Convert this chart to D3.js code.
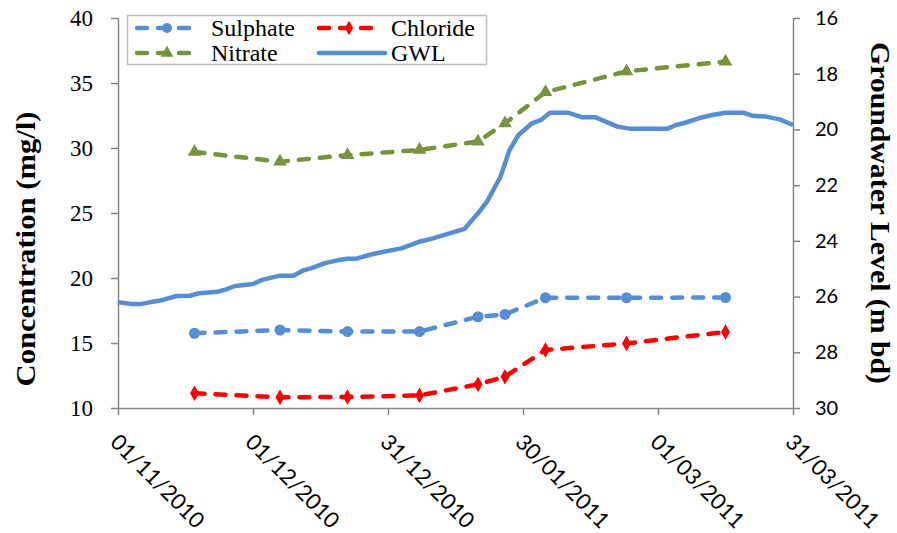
<!DOCTYPE html>
<html>
<head>
<meta charset="utf-8">
<script src="https://cdn.jsdelivr.net/npm/d3@7"></script>
<style>
  body { margin: 0; background: #fff; }
  svg { display: block; }
</style>
</head>
<body>
<svg id="chart" width="897" height="533"></svg>
<script>
// sampling campaign dates (chemistry)
var sampleDates = ["2010-11-18", "2010-12-07", "2010-12-22", "2011-01-07", "2011-01-20",
                   "2011-01-26", "2011-02-04", "2011-02-22", "2011-03-16"];
var sulphate = [15.75, 16.0, 15.88, 15.88, 17.02, 17.2, 18.48, 18.48, 18.5];
var chloride = [11.13, 10.82, 10.85, 10.97, 11.82, 12.41, 14.46, 14.97, 15.85];
var nitrate  = [29.7, 28.95, 29.45, 29.85, 30.5, 31.9, 34.3, 35.9, 36.65];

// groundwater level, metres below datum
var gwlDates = ["2010-11-01", "2010-11-04", "2010-11-06", "2010-11-09", "2010-11-11", "2010-11-14",
                "2010-11-17", "2010-11-19", "2010-11-23", "2010-11-25", "2010-11-27", "2010-12-01",
                "2010-12-03", "2010-12-07", "2010-12-10", "2010-12-12", "2010-12-14", "2010-12-17",
                "2010-12-20", "2010-12-22", "2010-12-24", "2010-12-27", "2010-12-30", "2011-01-03",
                "2011-01-07", "2011-01-10", "2011-01-14", "2011-01-17", "2011-01-20", "2011-01-22",
                "2011-01-25", "2011-01-27", "2011-01-29", "2011-02-01", "2011-02-03", "2011-02-05",
                "2011-02-09", "2011-02-12", "2011-02-15", "2011-02-20", "2011-02-23", "2011-03-03",
                "2011-03-05", "2011-03-07", "2011-03-10", "2011-03-13", "2011-03-16", "2011-03-20",
                "2011-03-22", "2011-03-25", "2011-03-28", "2011-03-31"];
var gwl = [26.20, 26.27, 26.27, 26.18, 26.12, 25.98,
           25.97, 25.88, 25.83, 25.74, 25.62, 25.55,
           25.40, 25.25, 25.25, 25.07, 24.98, 24.80,
           24.69, 24.64, 24.64, 24.50, 24.39, 24.27,
           24.03, 23.91, 23.71, 23.57, 23.01, 22.59,
           21.70, 20.74, 20.20, 19.78, 19.66, 19.40,
           19.40, 19.56, 19.56, 19.90, 19.98, 19.98,
           19.84, 19.76, 19.60, 19.48, 19.40, 19.40,
           19.51, 19.54, 19.64, 19.84];

var xTicks = ["2010-11-01", "2010-12-01", "2010-12-31", "2011-01-30", "2011-03-01", "2011-03-31"];
var leftTicks = [10, 15, 20, 25, 30, 35, 40];
var rightTicks = [16, 18, 20, 22, 24, 26, 28, 30];

var parse = d3.utcParse("%Y-%m-%d");
var fmt = d3.utcFormat("%d/%m/%Y");

var svg = d3.select("#chart");
var pLeft = 118, pRight = 793, pTop = 18, pBottom = 408;
var axisColor = "#868686";
var serif = "'Liberation Serif', 'Times New Roman', serif";
var sans = "Lato, 'Open Sans', sans-serif";

var x = d3.scaleUtc().domain([parse(xTicks[0]), parse(xTicks[xTicks.length - 1])]).range([pLeft, pRight]);
var yL = d3.scaleLinear().domain([10, 40]).range([pBottom, pTop]);
var yR = d3.scaleLinear().domain([16, 30]).range([pTop, pBottom]);

function styleAxis(g) {
    g.select(".domain").attr("stroke", axisColor).attr("stroke-width", 1.5);
    g.selectAll(".tick line").attr("stroke", axisColor).attr("stroke-width", 1.5);
}

// left axis
var gL = svg.append("g").attr("transform", "translate(" + pLeft + ",0)")
    .call(d3.axisLeft(yL).tickValues(leftTicks).tickSize(7).tickSizeOuter(0).tickPadding(18));
styleAxis(gL);
gL.selectAll("text").style("font-family", serif).style("font-size", "23px").attr("fill", "#000");

// right axis
var gR = svg.append("g").attr("transform", "translate(" + pRight + ",0)")
    .call(d3.axisRight(yR).tickValues(rightTicks).tickSize(7).tickSizeOuter(0).tickPadding(15));
styleAxis(gR);
gR.selectAll("text").style("font-family", sans).style("font-size", "20px").attr("fill", "#000");

// bottom axis
var gB = svg.append("g").attr("transform", "translate(0," + pBottom + ")")
    .call(d3.axisBottom(x).tickValues(xTicks.map(parse)).tickSize(7).tickSizeOuter(0).tickFormat(fmt));
styleAxis(gB);
gB.selectAll("text")
    .style("font-family", sans).style("font-size", "22px").attr("fill", "#000")
    .attr("text-anchor", "start")
    .attr("y", 0).attr("dy", "0.35em")
    .attr("transform", "translate(-4,30) rotate(45)");

// axis titles
svg.append("text")
    .attr("transform", "translate(35,249) rotate(-90)")
    .attr("text-anchor", "middle")
    .attr("textLength", 275).attr("lengthAdjust", "spacingAndGlyphs")
    .style("font-family", serif).style("font-weight", "bold").style("font-size", "27px")
    .text("Concentration (mg/l)");

svg.append("text")
    .attr("transform", "translate(871,213) rotate(90)")
    .attr("text-anchor", "middle")
    .attr("textLength", 342).attr("lengthAdjust", "spacingAndGlyphs")
    .style("font-family", serif).style("font-weight", "bold").style("font-size", "27px")
    .text("Groundwater Level (m bd)");

// series
var series = [
    {name: "Sulphate", values: sulphate, color: "#558ED5", symbol: d3.symbolCircle, size: 95},
    {name: "Chloride", values: chloride, color: "#FF0000", symbol: d3.symbolDiamond, size: 70},
    {name: "Nitrate", values: nitrate, color: "#77933C", symbol: d3.symbolTriangle, size: 80}
];

var dash = "10,11";
var lw = 4.5;

// GWL line first (underneath)
var gwlLine = d3.line()
    .x(function(d, i) { return x(parse(gwlDates[i])); })
    .y(function(d) { return yR(d); });
svg.append("path")
    .datum(gwl)
    .attr("d", gwlLine)
    .attr("fill", "none")
    .attr("stroke", "#558ED5")
    .attr("stroke-width", lw)
    .attr("stroke-linejoin", "round");

var chemLine = d3.line()
    .x(function(d, i) { return x(parse(sampleDates[i])); })
    .y(function(d) { return yL(d); });

series.forEach(function(s) {
    svg.append("path")
        .datum(s.values)
        .attr("d", chemLine)
        .attr("fill", "none")
        .attr("stroke", s.color)
        .attr("stroke-width", lw)
        .attr("stroke-dasharray", dash)
        .attr("stroke-linecap", "round");
    svg.selectAll(null)
        .data(s.values)
        .enter()
        .append("path")
        .attr("d", d3.symbol().type(s.symbol).size(s.size))
        .attr("transform", function(d, i) {
            return "translate(" + x(parse(sampleDates[i])) + "," + yL(d) + ")";
        })
        .attr("fill", s.color);
});

// legend
var legend = svg.append("g");
legend.append("rect")
    .attr("x", 127.5).attr("y", 15.5).attr("width", 359).attr("height", 49)
    .attr("fill", "#fff").attr("stroke", "#bfbfbf").attr("stroke-width", 1.5);

var legendItems = [
    {name: "Sulphate", color: "#558ED5", symbol: d3.symbolCircle, size: 80, lx: 135, tx: 211, ly: 28},
    {name: "Chloride", color: "#FF0000", symbol: d3.symbolDiamond, size: 60, lx: 317, tx: 391, ly: 28},
    {name: "Nitrate", color: "#77933C", symbol: d3.symbolTriangle, size: 70, lx: 135, tx: 211, ly: 53},
    {name: "GWL", color: "#558ED5", symbol: null, lx: 317, tx: 391, ly: 53}
];
legendItems.forEach(function(it) {
    var l = legend.append("line")
        .attr("x1", it.lx + 2).attr("x2", it.lx + 62)
        .attr("y1", it.ly).attr("y2", it.ly)
        .attr("stroke", it.color).attr("stroke-width", lw)
        .attr("stroke-linecap", "round");
    if (it.symbol) {
        l.attr("stroke-dasharray", "10,11");
        legend.append("path")
            .attr("d", d3.symbol().type(it.symbol).size(it.size))
            .attr("transform", "translate(" + (it.lx + 32) + "," + it.ly + ")")
            .attr("fill", it.color);
    } else {
        l.attr("x2", it.lx + 68);
    }
    legend.append("text")
        .attr("x", it.tx).attr("y", it.ly).attr("dy", "0.33em")
        .style("font-family", serif).style("font-size", "24px")
        .text(it.name);
});
</script>
</body>
</html>
